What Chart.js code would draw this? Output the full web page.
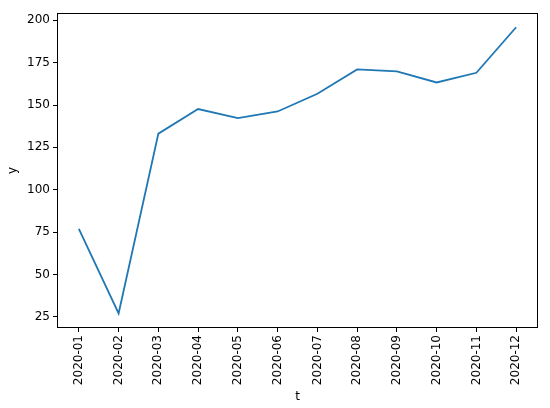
<!DOCTYPE html>
<html>
<head>
<meta charset="utf-8">
<script src="https://cdn.jsdelivr.net/npm/chart.js@4/dist/chart.umd.min.js"></script>
<style>
  html, body { margin: 0; padding: 0; background: #fff; }
  #wrap { width: 550px; height: 408px; }
</style>
</head>
<body>
<div id="wrap"><canvas id="chart" width="550" height="408"></canvas></div>
<script>
// data
const months = ['2020-01', '2020-02', '2020-03', '2020-04', '2020-05', '2020-06',
                '2020-07', '2020-08', '2020-09', '2020-10', '2020-11', '2020-12'];
const yValues = [76.9, 27.0, 133.1, 147.6, 142.3, 146.2, 156.6, 171.0, 169.8, 163.3, 169.0, 195.9];
const yTicks = [25, 50, 75, 100, 125, 150, 175, 200];

const points = months.map((m, i) => ({ x: i, y: yValues[i] }));

// frame around the plot area, like matplotlib's spines
const frame = {
  id: 'frame',
  afterDraw(chart) {
    const a = chart.chartArea;
    const ctx = chart.ctx;
    ctx.save();
    ctx.strokeStyle = '#000';
    ctx.lineWidth = 1;
    ctx.strokeRect(Math.round(a.left) + 0.5, Math.round(a.top) + 0.5,
                   Math.round(a.right - a.left) - 1, Math.round(a.bottom - a.top) - 1);
    ctx.restore();
  }
};

const font = { family: 'DejaVu Sans', size: 12 };

new Chart(document.getElementById('chart'), {
  type: 'line',
  data: {
    datasets: [{
      data: points,
      borderColor: '#1f77b4',
      borderWidth: 1.8,
      pointRadius: 0,
      tension: 0,
      fill: false
    }]
  },
  options: {
    responsive: false,
    animation: false,
    layout: { padding: { top: 13, right: 12, left: 0, bottom: 0 } },
    plugins: { legend: { display: false }, tooltip: { enabled: false } },
    scales: {
      x: {
        type: 'linear',
        min: -0.55,
        max: 11.55,
        afterBuildTicks(scale) {
          scale.ticks = months.map((m, i) => ({ value: i }));
        },
        afterFit(scale) { scale.height = 80; },
        ticks: {
          autoSkip: false,
          minRotation: 90,
          maxRotation: 90,
          padding: 3,
          color: '#000',
          font: font,
          callback: (v) => months[v]
        },
        grid: { drawOnChartArea: false, tickLength: 4, tickColor: '#000', color: '#000' },
        border: { display: false },
        title: { display: true, text: 't', color: '#000', font: font, padding: { top: 4, bottom: 4 } }
      },
      y: {
        min: 18.4,
        max: 204.3,
        afterBuildTicks(scale) {
          scale.ticks = yTicks.map(v => ({ value: v }));
        },
        afterFit(scale) { scale.width = 57; },
        ticks: { padding: 3, color: '#000', font: font },
        grid: { drawOnChartArea: false, tickLength: 4, tickColor: '#000', color: '#000' },
        border: { display: false },
        title: { display: true, text: 'y', color: '#000', font: font, padding: { top: 6, bottom: 0 } }
      }
    }
  },
  plugins: [frame]
});
</script>
</body>
</html>
